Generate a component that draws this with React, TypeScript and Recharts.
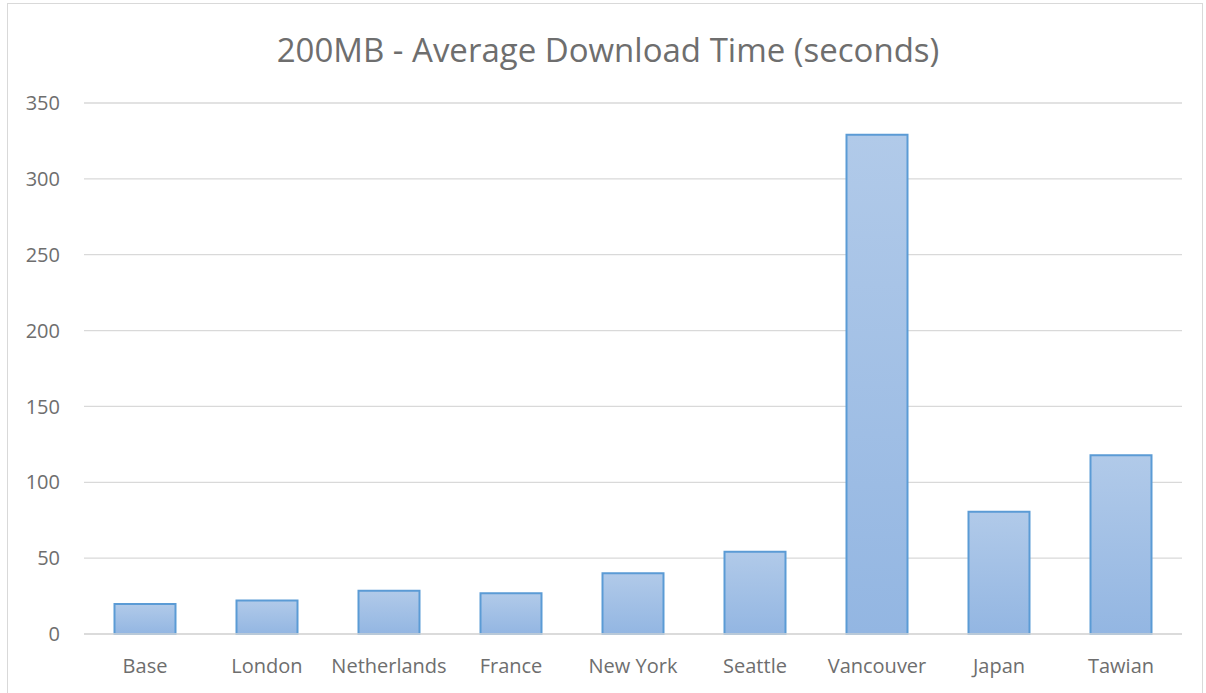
import { BarChart, Bar, XAxis, YAxis, CartesianGrid } from 'recharts'

const cities = ['Base', 'London', 'Netherlands', 'France', 'New York', 'Seattle', 'Vancouver', 'Japan', 'Tawian']
const seconds = [19.7, 22, 28.5, 26.8, 40, 54.2, 329, 80.6, 117.8]
const yTicks = [0, 50, 100, 150, 200, 250, 300, 350]

const data = cities.map((city, i) => ({ city, seconds: seconds[i] }))

const FONT = '"Open Sans", Lato, sans-serif'
const TEXT = '#6e6e6e'

export default function App() {
  return (
    <div style={{ position: 'absolute', left: 0, top: 0, width: 1206, height: 693, background: '#fff', fontFamily: FONT }}>
      <div
        style={{
          position: 'absolute',
          left: 7,
          top: 3,
          width: 1196,
          height: 700,
          border: '1px solid #d9d9d9',
          boxSizing: 'border-box',
        }}
      />
      <div
        style={{
          position: 'absolute',
          left: 0,
          top: 27,
          width: 1216,
          textAlign: 'center',
          fontSize: 33,
          color: TEXT,
          lineHeight: '46px',
        }}
      >
        200MB - Average Download Time (seconds)
      </div>
      <div style={{ position: 'absolute', left: 0, top: 0 }}>
        <BarChart
          width={1206}
          height={693}
          data={data}
          margin={{ top: 103, right: 24, left: 0, bottom: 0 }}
          barCategoryGap="25%"
        >
          <defs>
            <linearGradient id="barFill" x1="0" y1="0" x2="0" y2="1">
              <stop offset="0%" stopColor="#b1cae9" />
              <stop offset="100%" stopColor="#93b6e2" />
            </linearGradient>
          </defs>
          <CartesianGrid vertical={false} stroke="#d9d9d9" strokeWidth={1.3} />
          <XAxis
            dataKey="city"
            axisLine={{ stroke: '#d9d9d9', strokeWidth: 1.3 }}
            tickLine={false}
            tickSize={0}
            tickMargin={25}
            height={59}
            tick={{ fontSize: 20, fill: TEXT, fontFamily: FONT }}
            interval={0}
          />
          <YAxis
            width={84}
            domain={[0, 350]}
            ticks={yTicks}
            axisLine={false}
            tickLine={false}
            tickSize={0}
            tickMargin={24}
            tick={{ fontSize: 20, fill: TEXT, fontFamily: FONT }}
          />
          <Bar
            dataKey="seconds"
            fill="url(#barFill)"
            stroke="#5b9bd5"
            strokeWidth={2}
            isAnimationActive={false}
          />
        </BarChart>
      </div>
    </div>
  )
}
